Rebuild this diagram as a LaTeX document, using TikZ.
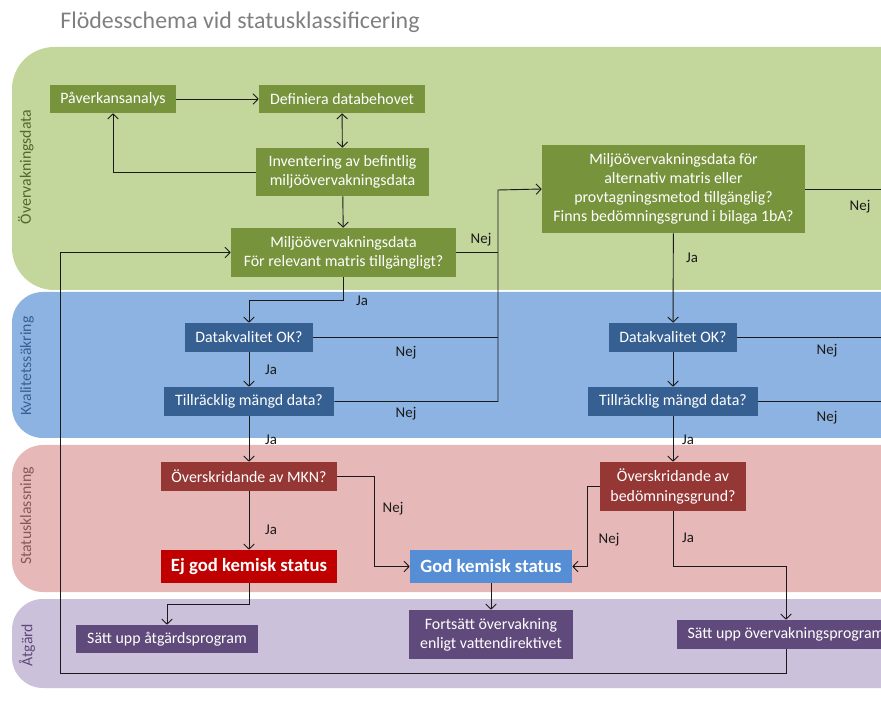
\documentclass[tikz,border=0pt]{standalone}
\usepackage{fontspec}
\setmainfont{Carlito}
\usepackage{tikz}
\usetikzlibrary{positioning,arrows.meta,calc}
\definecolor{ink}      {HTML}{1A1A1A}
\definecolor{titlegray}{HTML}{7F7F7F}
\definecolor{lanegreen}{HTML}{C3D69B}
\definecolor{laneblue} {HTML}{8DB3E2}
\definecolor{lanered}  {HTML}{E6B9B8}
\definecolor{lanepurp} {HTML}{CCC1DA}
\definecolor{olive}    {HTML}{77933C}
\definecolor{navy}     {HTML}{376092}
\definecolor{brick}    {HTML}{953735}
\definecolor{alarm}    {HTML}{C00000}
\definecolor{okblue}   {HTML}{558ED5}
\definecolor{plum}     {HTML}{604A7B}
\definecolor{redtext}  {HTML}{8A5656}
\tikzset{
  >={Straight Barb[length=3.6pt,width=7.5pt]},
  % --- nodes
  box/.style    = {inner sep=0pt, align=center, text=white,
                   font=\fontsize{11.3}{13.6}\selectfont},
  bw/.style     = {minimum width=#1*0.025cm},
  bh/.style     = {minimum height=#1*0.025cm},
  gbox/.style   = {box, fill=olive},
  kbox/.style   = {box, fill=navy},
  rbox/.style   = {box, fill=brick},
  sbox/.style   = {box, font=\fontsize{13.3}{15}\selectfont\bfseries},
  pbox/.style   = {box, fill=plum},
  lbl/.style    = {font=\fontsize{10.6}{12}\selectfont, text=ink, inner sep=0pt},
  lanelbl/.style= {font=\fontsize{11.2}{13}\selectfont, rotate=90, inner sep=0pt},
  % --- edges
  e/.style      = {->, line width=0.65pt, draw=ink},
  l/.style      = {line width=0.65pt, draw=ink},
}
\begin{document}
\begin{tikzpicture}[x=0.025cm, y=-0.025cm]
  \useasboundingbox (0,0) rectangle (881,720);
  \clip (0,0) rectangle (881,720);
  % lanes
  \fill[lanegreen, rounded corners=30] (12,47) rectangle (940,290);
  \fill[laneblue,  rounded corners=22] (12,292) rectangle (940,438);
  \fill[lanered,   rounded corners=22] (12,445) rectangle (940,592);
  \fill[lanepurp,  rounded corners=22] (12,599) rectangle (940,688);
  \node[lanelbl, text=olive!70!black] (lgreen) at (26,167) {Övervakningsdata};
  \node[lanelbl, text=navy]           (lblue)  at (27,366) {Kvalitetssäkring};
  \node[lanelbl, text=redtext]        (lred)   at (27,516) {Statusklassning};
  \node[lanelbl, text=plum]           (lpurp)  at (27,645) {Åtgärd};
  \node[font=\fontsize{17}{20}\selectfont, text=titlegray, inner sep=0pt] (title) at (240,22)
    {Flödesschema vid statusklassificering};

  % boxes
  \node[gbox, bw=126, bh=28] (pav) at (113,99) {Påverkansanalys};
  \node[gbox, bw=166, bh=28] (def) at (342,99) {Definiera databehovet};
  \node[gbox, bw=173, bh=48] (inv) at (342.5,172) {Inventering av befintlig\\miljöövervakningsdata};
  \node[gbox, bw=225, bh=49] (rel) at (343.5,252.5) {Miljöövervakningsdata\\För relevant matris tillgängligt?};
  \node[gbox, bw=263, bh=88] (alt) at (673.5,189) {Miljöövervakningsdata för\\alternativ matris eller\\provtagningsmetod tillgänglig?\\Finns bedömningsgrund i bilaga 1bA?};
  \node[kbox, bw=128, bh=29] (dk1) at (249,337.5) {Datakvalitet OK?};
  \node[kbox, bw=170, bh=29] (tm1) at (249,401.5) {Tillräcklig mängd data?};
  \node[kbox, bw=128, bh=29] (dk2) at (673,337.5) {Datakvalitet OK?};
  \node[kbox, bw=170, bh=29] (tm2) at (673,401.5) {Tillräcklig mängd data?};
  \node[rbox, bw=176, bh=29] (mkn) at (249,476.5) {Överskridande av MKN?};
  \node[rbox, bw=146, bh=49] (bed) at (673,486.5) {Överskridande av\\bedömningsgrund?};
  \node[sbox, fill=alarm, bw=176, bh=33] (ejgod) at (249,566.5) {Ej god kemisk status};
  \node[sbox, fill=okblue, bw=162, bh=33] (god) at (491,566.5) {God kemisk status};
  \node[pbox, bw=182, bh=28] (atg) at (167,639) {Sätt upp åtgärdsprogram};
  \node[pbox, bw=164, bh=49] (fort) at (491,634.5) {Fortsätt övervakning\\enligt vattendirektivet};
  \node[pbox, bw=218, bh=29] (ovp) at (786,634.5) {Sätt upp övervakningsprogram};

  % bends
  \coordinate (jrel) at (343.5,300);
  \coordinate (jalt) at (498,190);
  \coordinate (bendA) at (374,476.5);
  \coordinate (bendB) at (587,486.5);
  \coordinate (bendC) at (673,566);
  \coordinate (bendD) at (249,604);
  \coordinate (loopA) at (786,673);
  \coordinate (loopB) at (60,673);
  \coordinate (offA) at (900,189);

  % edges
  \draw[e] (pav) -- (def);
  \draw[e, <->] (def) -- (inv);
  \draw[e] (inv.west) -| (pav.south);
  \draw[e] (inv) -- (rel);
  \draw[e] (rel.south) -- (jrel) -| (dk1.north);
  \draw[l] (rel.east) -- (rel.east -| jalt);
  \draw[l] (dk1.east) -- (dk1.east -| jalt);
  \draw[e] (tm1.east) -| (jalt) -- (alt.west);
  \draw[l] (alt.east) -- (offA);
  \draw[l] (dk2.east) -- (dk2.east -| offA);
  \draw[l] (tm2.east) -- (tm2.east -| offA);
  \draw[e] (alt) -- (dk2);
  \draw[e] (dk2) -- (tm2);
  \draw[e] (tm2) -- (bed);
  \draw[e] (dk1) -- (tm1);
  \draw[e] (tm1) -- (mkn);
  \draw[e] (mkn) -- (ejgod);
  \draw[e] (mkn.east) -- (bendA) |- (god.west);
  \draw[e] (bed.west) -- (bendB) |- (god.east);
  \draw[e] (bed.south) -- (bendC) -| (ovp.north);
  \draw[e] (ejgod.south) -- (bendD) -| (atg.north);
  \draw[e] (god) -- (fort);
  \draw[e] (ovp.south) -- (loopA) -- (loopB) |- (rel.west);

  % labels
  \node[lbl] (n1) at (481,240) {Nej};
  \node[lbl] (n2) at (860,207) {Nej};
  \node[lbl] (n3) at (406,353) {Nej};
  \node[lbl] (n4) at (406,414) {Nej};
  \node[lbl] (n5) at (827,351) {Nej};
  \node[lbl] (n6) at (827,418) {Nej};
  \node[lbl] (n7) at (393,509) {Nej};
  \node[lbl] (n8) at (609,540) {Nej};
  \node[lbl] (j1) at (362,301) {Ja};
  \node[lbl] (j2) at (692,258) {Ja};
  \node[lbl] (j3) at (271,370) {Ja};
  \node[lbl] (j4) at (271,440) {Ja};
  \node[lbl] (j5) at (688,440) {Ja};
  \node[lbl] (j6) at (271,530) {Ja};
  \node[lbl] (j7) at (688,538) {Ja};
\end{tikzpicture}
\end{document}
